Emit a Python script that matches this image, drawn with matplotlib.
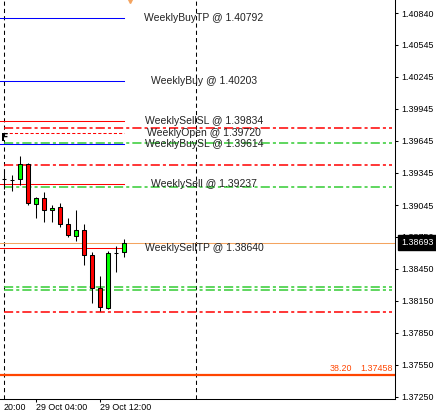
import matplotlib.pyplot as plt
import matplotlib.transforms as mtransforms

plt.rcParams['font.family'] = ['Liberation Sans', 'DejaVu Sans']

# H1 candles, 29 Oct 00:00 .. 15:00
opens = [1.39284, 1.39276, 1.39286, 1.39426, 1.39052, 1.39108, 1.38996, 1.39024,
         1.38867, 1.38752, 1.38808, 1.38574, 1.38266, 1.38078, 1.38599, 1.38602]
highs = [1.39380, 1.39329, 1.39504, 1.39434, 1.39123, 1.39164, 1.39042, 1.39061,
         1.38921, 1.38998, 1.38867, 1.38608, 1.38381, 1.38615, 1.38661, 1.38727]
lows = [1.39195, 1.39179, 1.39232, 1.39045, 1.38926, 1.38889, 1.38889, 1.38837,
        1.38749, 1.38711, 1.38481, 1.38131, 1.38056, 1.38069, 1.38421, 1.38556]
closes = [1.39285, 1.39278, 1.39426, 1.39061, 1.39108, 1.38996, 1.39014, 1.38867,
          1.38764, 1.38808, 1.38574, 1.38266, 1.38093, 1.38593, 1.38600, 1.38693]

# weekly levels
level_names = ['WeeklyBuyTP', 'WeeklyBuy', 'WeeklySellSL', 'WeeklyOpen',
               'WeeklyBuySL', 'WeeklySell', 'WeeklySellTP']
level_values = [1.40792, 1.40203, 1.39834, 1.39720, 1.39614, 1.39237, 1.38640]
level_colors = ['#0000ff', '#0000ff', '#ff0000', '#ff0000', '#0000ff', '#ff0000', '#ff0000']

red_dashdot = [1.39766, 1.39417, 1.38041]
green_dashdot = [1.39623, 1.39211, 1.38281, 1.38250]

fib_level = 1.37458
fib_label = '38.20'
bid = 1.38693

ytick_vals = [1.40840, 1.40545, 1.40245, 1.39945, 1.39645, 1.39345, 1.39045,
              1.38750, 1.38450, 1.38150, 1.37850, 1.37550, 1.37250]
xtick_bars = [-0.1, 4, 12]
xtick_labels = ['20:00', '29 Oct 04:00', '29 Oct 12:00']
day_separators = [0, 24]

fig = plt.figure(figsize=(4.36, 4.16), dpi=100)
ax = fig.add_axes([0, 1 - 399 / 416, 395 / 436, 399 / 416])
ax.set_xlim(-0.5, 48.875)
ax.set_ylim(1.37229, 1.40964)

# day separators
for b in day_separators:
    ax.axvline(b, color='black', lw=0.75, ls=(0, (4, 3)), zorder=1)

# bid line and fibo level
ax.axhline(bid, color='#f4a460', lw=0.75, zorder=1)
ax.axhline(fib_level, color='#ff4500', lw=1.6, zorder=1)

# dash-dot levels
for v in red_dashdot:
    ax.plot([0, 48.5], [v, v], color='#ff0000', lw=1.1, ls=(0, (6, 2, 2, 2)), zorder=1)
for v in green_dashdot:
    ax.plot([0, 48.5], [v, v], color='#33cc33', lw=1.1, ls=(0, (6, 2, 2, 2)), zorder=1)

# weekly levels + labels
for name, v, c in zip(level_names, level_values, level_colors):
    if name == 'WeeklyOpen':
        ax.plot([0, 15], [v, v], color=c, lw=0.75, ls=(0, (3, 2)), zorder=2)
    else:
        ax.plot([-1, 15], [v, v], color=c, lw=0.75, zorder=2)
    ax.text(25, v, f'{name} @ {v:.5f}', ha='center', va='center',
            fontsize=7.5, color='#222222', zorder=4)

# candles
for i in range(len(opens)):
    o, c = opens[i], closes[i]
    ax.vlines(i, lows[i], highs[i], color='black', lw=0.75, zorder=3)
    col = '#00ff00' if c >= o else '#ff0000'
    ax.bar(i, c - o, bottom=o, width=0.62, color=col, edgecolor='black',
           linewidth=0.75, zorder=3)

# chart markers
ax.plot(15.75, 1.40964, marker='v', color='#f4a460', ms=4, clip_on=False)
ax.text(0.1, 1.39668, 'F', fontweight='bold', fontsize=8, ha='center', va='center',
        family='DejaVu Sans', zorder=5)

trans = mtransforms.blended_transform_factory(ax.transAxes, ax.transData)
ax.annotate('1.37458', xy=(393 / 395, fib_level), xycoords=trans, xytext=(0, 1.2),
            textcoords='offset points', ha='right', va='bottom', color='#ff4500', fontsize=6.4)
ax.annotate(fib_label, xy=(352 / 395, fib_level), xycoords=trans, xytext=(0, 1.2),
            textcoords='offset points', ha='right', va='bottom', color='#ff4500', fontsize=6.4)

# bid price box on the axis
ax.annotate(f'{bid:.5f}', xy=(1, bid), xycoords=trans, xytext=(4.2, 0),
            textcoords='offset points', ha='left', va='center', color='white', fontsize=6.4,
            bbox=dict(boxstyle='square,pad=0.35', fc='black', ec='black'),
            annotation_clip=False, zorder=10)

# axes
ax.spines['left'].set_visible(False)
ax.spines['top'].set_visible(False)
ax.spines['right'].set_linewidth(0.75)
ax.spines['bottom'].set_linewidth(0.75)

ax.yaxis.tick_right()
ax.set_yticks(ytick_vals)
ax.set_yticklabels([f'{v:.5f}' for v in ytick_vals])
ax.tick_params(axis='y', length=2.2, width=0.75, pad=2, labelsize=6.4)

ax.set_xticks(xtick_bars)
ax.set_xticklabels(xtick_labels, ha='left')
ax.tick_params(axis='x', length=2.2, width=0.75, pad=1, labelsize=6.4)
ax.xaxis.get_major_ticks()[0].tick1line.set_visible(False)

fig.savefig('out.png', dpi=100)
